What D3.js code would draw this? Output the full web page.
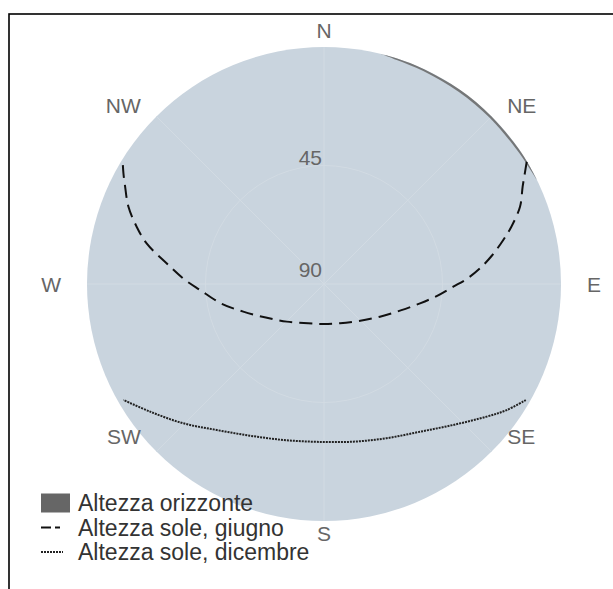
<!DOCTYPE html>
<html>
<head>
<meta charset="utf-8">
<script src="https://cdn.jsdelivr.net/npm/d3@7"></script>
<style>
  html, body { margin: 0; padding: 0; background: #fff; }
  svg { display: block; font-family: "Liberation Sans", Arial, sans-serif; }
</style>
</head>
<body>
<svg id="chart" width="613" height="589"></svg>
<script>
// Sun path on a polar horizon diagram: azimuth (deg from N, clockwise) and elevation (deg)
const compassLabels = ["N", "NE", "E", "SE", "S", "SW", "W", "NW"];
const compassAngles = [0, 45, 90, 135, 180, 225, 270, 315];
const radialTicks = [45, 90];

const horizonAz = [14, 18, 25, 35, 45, 55, 60, 64];
const horizonEl = [0, 0.6, 0.8, 0.9, 0.9, 0.8, 0.5, 0];

const juneAz = [58.9, 61.2, 63.9, 68.5, 73, 76.2, 80.3, 84.3, 88, 91.2, 96, 101.4, 109, 120.3, 137, 157.8, 180,
                202, 224.7, 240, 251.1, 259, 267.2, 272, 277.5, 282.9, 287, 291.6, 296.1, 298.9, 301.6];
const juneEl = [0.1, 3.0, 6.0, 10.0, 15.6, 19.9, 25.2, 30.5, 35.8, 40.9, 46.8, 52.8, 59.2, 65.4, 70.8, 73.9, 74.8,
                73.9, 69.9, 64.5, 57.6, 50.5, 42.9, 36.8, 29.7, 20.9, 15.6, 10.1, 5.9, 3.0, 0.2];

const decAz = [119.9, 124.6, 129.2, 137.5, 147, 157.9, 169.5, 182.7, 194.6, 206, 216.3, 225.3, 233.7, 240];
const decEl = [1.6, 5.7, 10.3, 17.4, 23.1, 26.8, 29.1, 30.0, 28.8, 25.9, 21.2, 14.8, 8.1, 2.0];

const legendLabels = ["Altezza orizzonte", "Altezza sole, giugno", "Altezza sole, dicembre"];

const svg = d3.select("#chart");
const cx = 324, cy = 284, R = 237;
const toRad = d => d * Math.PI / 180;

// elevation 90 at the centre, 0 on the outer ring
const r = d3.scaleLinear().domain([0, 90]).range([R, 0]);

// frame
svg.append("rect")
  .attr("x", 9).attr("y", 14).attr("width", 800).attr("height", 800)
  .attr("fill", "none").attr("stroke", "#000").attr("stroke-width", 1.6);

const g = svg.append("g").attr("transform", `translate(${cx},${cy})`);

// polar background
g.append("circle").attr("r", R).attr("fill", "#c9d4de");

// grid: elevation circle and compass spokes
g.append("circle").attr("r", r(45)).attr("fill", "none")
  .attr("stroke", "#d2dbe3").attr("stroke-width", 1);
g.selectAll("line.spoke").data(compassAngles).join("line")
  .attr("class", "spoke")
  .attr("x1", 0).attr("y1", 0)
  .attr("x2", d => R * Math.sin(toRad(d)))
  .attr("y2", d => -R * Math.cos(toRad(d)))
  .attr("stroke", "#d2dbe3").attr("stroke-width", 1);

// horizon profile
const horizon = horizonAz.map((a, i) => ({ az: a, el: horizonEl[i] }));
g.append("path")
  .datum(horizon)
  .attr("d", d3.areaRadial()
    .angle(d => toRad(d.az))
    .innerRadius(r(0))
    .outerRadius(d => r(d.el))
    .curve(d3.curveCatmullRom))
  .attr("fill", "#666").attr("fill-opacity", 0.85);

// sun paths
const line = d3.lineRadial()
  .angle(d => toRad(d.az))
  .radius(d => r(d.el))
  .curve(d3.curveCatmullRom);

const june = juneAz.map((a, i) => ({ az: a, el: juneEl[i] }));
const dec = decAz.map((a, i) => ({ az: a, el: decEl[i] }));

g.append("path").datum(june).attr("d", line)
  .attr("fill", "none").attr("stroke", "#111").attr("stroke-width", 2)
  .attr("stroke-dasharray", "13,7");
g.append("path").datum(dec).attr("d", line)
  .attr("fill", "none").attr("stroke", "#222").attr("stroke-width", 2)
  .attr("stroke-dasharray", "2,1");

// radial tick labels, right-aligned just above the north spoke
g.selectAll("text.rtick").data(radialTicks).join("text")
  .attr("class", "rtick")
  .attr("x", -2)
  .attr("y", d => -r(d) * 0.945 - 7)
  .attr("text-anchor", "end")
  .attr("fill", "#666").attr("font-size", 21)
  .text(d => d);

// compass labels around the outer ring
function labelPos(a) {
  const s = Math.sin(toRad(a)), c = Math.cos(toRad(a));
  let x, y, anchor;
  if (Math.abs(s) < 0.01) { x = 0; anchor = "middle"; }
  else if (Math.abs(s) > 0.99) { x = s * (R + 26); anchor = s > 0 ? "start" : "end"; }
  else { x = s * (R + 22); anchor = s > 0 ? "start" : "end"; }
  if (c > 0.99) y = -R - 17;
  else if (c < -0.99) y = R + 12;
  else if (c > 0.01) y = -c * R - 11;
  else if (c < -0.01) y = -c * R - 15;
  else y = 0;
  return { x, y, anchor };
}
g.selectAll("text.compass").data(compassLabels).join("text")
  .attr("class", "compass")
  .each(function(d, i) {
    const p = labelPos(compassAngles[i]);
    d3.select(this).attr("x", p.x).attr("y", p.y).attr("text-anchor", p.anchor);
  })
  .attr("dominant-baseline", "central")
  .attr("fill", "#666").attr("font-size", 21)
  .text(d => d);

// legend
const lg = svg.append("g").attr("transform", "translate(41,503)");
const rowH = 24.5;
lg.append("rect").attr("x", 0).attr("y", -9.5).attr("width", 29).attr("height", 19).attr("fill", "#666");
lg.append("line").attr("x1", 0).attr("x2", 19).attr("y1", rowH).attr("y2", rowH)
  .attr("stroke", "#111").attr("stroke-width", 2).attr("stroke-dasharray", "10,4");
lg.append("line").attr("x1", 0).attr("x2", 22).attr("y1", rowH * 2).attr("y2", rowH * 2)
  .attr("stroke", "#222").attr("stroke-width", 2).attr("stroke-dasharray", "2,1");
lg.selectAll("text").data(legendLabels).join("text")
  .attr("x", 37).attr("y", (d, i) => i * rowH)
  .attr("dominant-baseline", "central")
  .attr("fill", "#333").attr("font-size", 23)
  .text(d => d);
</script>
</body>
</html>
